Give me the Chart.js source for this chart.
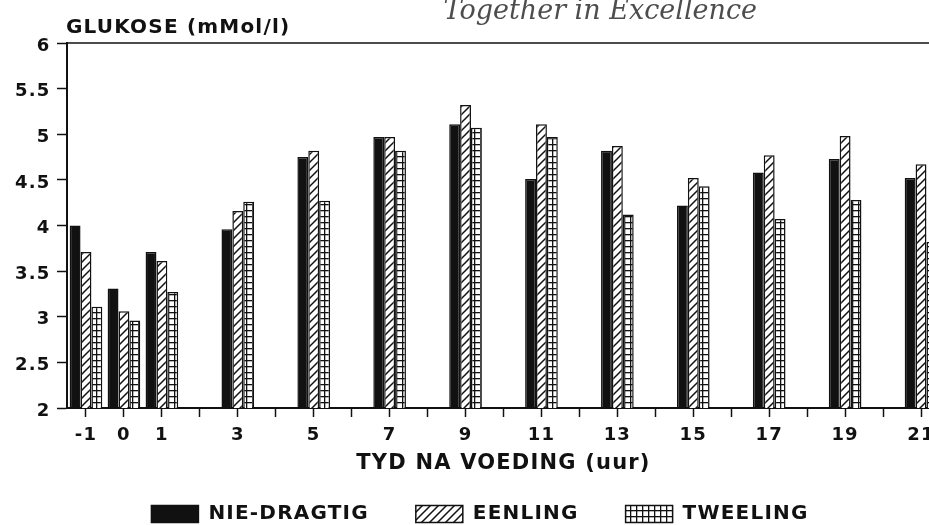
<!DOCTYPE html>
<html>
<head>
<meta charset="utf-8">
<script src="https://cdn.jsdelivr.net/npm/chart.js@4.4.0/dist/chart.umd.min.js"></script>
<style>
html,body{margin:0;padding:0;background:#fff;overflow:hidden;}
#wrap{width:929px;height:525px;overflow:hidden;position:relative;}
canvas{display:block;}
</style>
</head>
<body>
<div id="wrap"><canvas id="c" width="940" height="525" style="width:940px;height:525px"></canvas></div>
<script>
// ---- data ----
const hours      = [-1, 0, 1, 3, 5, 7, 9, 11, 13, 15, 17, 19, 21];
const nieDragtig = [4.00, 3.31, 3.71, 3.96, 4.75, 4.97, 5.11, 4.51, 4.82, 4.22, 4.58, 4.73, 4.52];
const eenling    = [3.71, 3.06, 3.61, 4.16, 4.82, 4.97, 5.32, 5.11, 4.87, 4.52, 4.77, 4.98, 4.67];
const tweeling   = [3.11, 2.96, 3.27, 4.26, 4.27, 4.82, 5.07, 4.97, 4.12, 4.43, 4.07, 4.28, 3.82];
const yTicks     = [2, 2.5, 3, 3.5, 4, 4.5, 5, 5.5, 6];
const seriesNames = ['NIE-DRAGTIG', 'EENLING', 'TWEELING'];
const yTitle = 'GLUKOSE (mMol/l)';
const xTitle = 'TYD NA VOEDING (uur)';
const watermark = 'Together in Excellence';

const INK = '#111';
const canvas = document.getElementById('c');
const ctx = canvas.getContext('2d');

function hatchPattern() {
  const s = 8, c = document.createElement('canvas');
  c.width = s; c.height = s;
  const g = c.getContext('2d');
  g.fillStyle = '#fff'; g.fillRect(0, 0, s, s);
  g.strokeStyle = INK; g.lineWidth = 1.5;
  g.beginPath();
  g.moveTo(-1, s + 1); g.lineTo(s + 1, -1);
  g.moveTo(-1, 1); g.lineTo(1, -1);
  g.moveTo(s - 1, s + 1); g.lineTo(s + 1, s - 1);
  g.stroke();
  return ctx.createPattern(c, 'repeat');
}
function gridPattern() {
  const w = 6, h = 6, c = document.createElement('canvas');
  c.width = w; c.height = h;
  const g = c.getContext('2d');
  g.fillStyle = '#fff'; g.fillRect(0, 0, w, h);
  g.fillStyle = INK;
  g.fillRect(0, 0, w, 1.3);
  g.fillRect(0, 0, 1.3, h);
  return ctx.createPattern(c, 'repeat');
}

const toXY = arr => hours.map((h, i) => ({x: h, y: arr[i]}));
const fills = [INK, hatchPattern(), gridPattern()];
const seriesData = [nieDragtig, eenling, tweeling];
const hourMin = hours[0], hourMax = hours[hours.length - 1];

Chart.defaults.font.family = '"DejaVu Sans", sans-serif';
Chart.defaults.font.weight = 'bold';
Chart.defaults.color = INK;

const LS = '1.2px';
const spacing = {
  id: 'spacing',
  beforeLayout(chart) { chart.ctx.letterSpacing = LS; },
  beforeDraw(chart) { chart.ctx.letterSpacing = LS; },
  afterLayout(chart) {
    const lg = chart.legend;
    if (lg) { lg.top += 9; lg.bottom += 9; lg.left += 10; lg.right += 10; }
  }
};

const deco = {
  id: 'deco',
  afterDraw(chart) {
    const c = chart.ctx, a = chart.chartArea;
    c.save();
    c.strokeStyle = INK; c.lineWidth = 1.5;
    c.beginPath(); c.moveTo(a.left, a.top); c.lineTo(chart.width, a.top); c.stroke();
    c.letterSpacing = '1.2px';
    c.fillStyle = INK; c.font = 'bold 20px "DejaVu Sans"';
    c.textAlign = 'left'; c.textBaseline = 'alphabetic';
    c.fillText(yTitle, 66, 33);
    c.letterSpacing = '0px';
    c.fillStyle = '#4d4d4d'; c.font = 'italic 27px "DejaVu Serif"';
    c.textAlign = 'right';
    c.fillText(watermark, 757, 18.5);
    c.restore();
  }
};

new Chart(ctx, {
  type: 'bar',
  data: {
    datasets: seriesNames.map((name, k) => ({
      label: name,
      data: toXY(seriesData[k]),
      backgroundColor: fills[k],
      borderColor: INK,
      borderWidth: 1.5
    }))
  },
  options: {
    responsive: false,
    animation: false,
    devicePixelRatio: 1,
    layout: {padding: {top: 43, left: 0, right: 0, bottom: 0}},
    datasets: {bar: {categoryPercentage: 0.86, barPercentage: 1.0}},
    scales: {
      x: {
        type: 'linear', min: hourMin - 0.5, max: hourMax + 0.5, offset: false,
        afterBuildTicks: s => {
          const t = [];
          for (let h = hourMin; h <= hourMax; h++) t.push({value: h});
          s.ticks = t;
        },
        grid: {display: true, offset: false, drawOnChartArea: false, drawTicks: true, tickLength: 9, tickColor: INK, tickWidth: 1.5},
        border: {display: true, color: INK, width: 2},
        ticks: {
          autoSkip: false, maxRotation: 0, minRotation: 0,
          padding: 8, color: INK, font: {size: 18, weight: 'bold'},
          callback: v => { const r = Math.round(v); return hours.indexOf(r) >= 0 ? String(r) : ''; }
        },
        title: {display: true, text: xTitle, color: INK, font: {size: 21, weight: 'bold'}, padding: {top: 0, bottom: -28}},
        afterFit: s => { s.height = 40; s.paddingLeft = 0; s.paddingRight = 0; }
      },
      y: {
        min: 2, max: 6,
        afterBuildTicks: s => { s.ticks = yTicks.map(v => ({value: v})); },
        grid: {display: true, drawOnChartArea: false, drawTicks: true, tickLength: 10, tickColor: INK, tickWidth: 1.5},
        border: {display: true, color: INK, width: 2},
        ticks: {padding: 6.5, labelOffset: 3, color: INK, font: {size: 18, weight: 'bold'}, callback: v => String(v)},
        afterFit: s => { s.width = 67; }
      }
    },
    plugins: {
      legend: {
        position: 'bottom',
        labels: {boxWidth: 47, boxHeight: 17, padding: 47, color: INK, font: {size: 20, weight: 'bold'}}
      },
      tooltip: {enabled: false},
      title: {display: false}
    }
  },
  plugins: [spacing, deco]
});
</script>
</body>
</html>
